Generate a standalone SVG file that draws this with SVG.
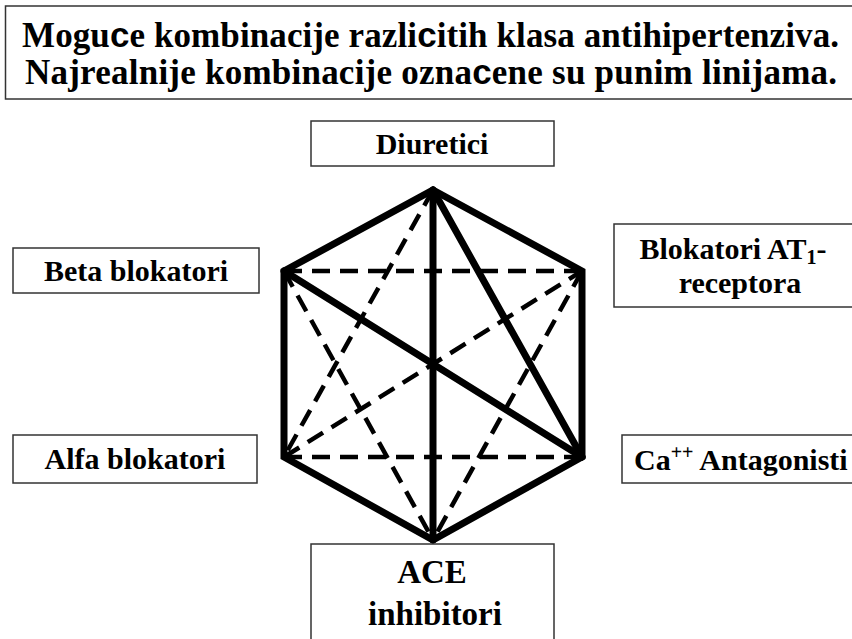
<svg xmlns="http://www.w3.org/2000/svg" width="852" height="639" viewBox="0 0 852 639">
<style>
.box{fill:#fff;stroke:#333;stroke-width:1.5}
.t{font-family:"Liberation Serif","Times New Roman",serif;font-weight:bold;fill:#000}
.c{font-family:"Liberation Sans",Arial,sans-serif;font-weight:bold}
.solid{stroke:#000;stroke-width:7;fill:none;stroke-linecap:round;stroke-linejoin:miter}
.dash{stroke:#000;stroke-width:4.5;fill:none;stroke-dasharray:18 10}
</style>
<rect width="852" height="639" fill="#fff"/>
<g id="title">
<rect class="box" x="5.5" y="6" width="860" height="93"/>
<text class="t" x="430.5" y="47" font-size="35" text-anchor="middle" textLength="817" lengthAdjust="spacing">Mogu<tspan class="c">c</tspan>e kombinacije razli<tspan class="c">c</tspan>itih klasa antihipertenziva.</text>
<text class="t" x="431" y="84" font-size="35" text-anchor="middle" textLength="812" lengthAdjust="spacing">Najrealnije kombinacije ozna<tspan class="c">c</tspan>ene su punim linijama.</text>
</g>
<g id="connectors">
<line class="dash" x1="284" y1="271" x2="582" y2="271"/>
<line class="dash" x1="284" y1="457" x2="582" y2="457"/>
<line class="dash" x1="433" y1="190" x2="284" y2="457"/>
<line class="dash" x1="284" y1="271" x2="433" y2="540"/>
<line class="dash" x1="284" y1="457" x2="582" y2="271"/>
<line class="dash" x1="582" y1="271" x2="433" y2="540"/>
<polygon class="solid" points="433,190 582,271 582,457 433,540 284,457 284,271"/>
<line class="solid" x1="433" y1="190" x2="433" y2="540"/>
<line class="solid" x1="284" y1="271" x2="582" y2="457"/>
<line class="solid" x1="433" y1="190" x2="582" y2="457"/>
</g>
<g id="diuretici">
<rect class="box" x="311" y="121" width="243" height="45"/>
<text class="t" x="432" y="154" font-size="30" text-anchor="middle">Diuretici</text>
</g>
<g id="beta">
<rect class="box" x="13" y="248" width="246" height="45"/>
<text class="t" x="136" y="281" font-size="30" text-anchor="middle">Beta blokatori</text>
</g>
<g id="at1">
<rect class="box" x="614" y="224" width="250" height="83"/>
<text class="t" x="733" y="259" font-size="30" text-anchor="middle">Blokatori AT<tspan font-size="20" dy="5">1</tspan><tspan dy="-5">-</tspan></text>
<text class="t" x="740" y="293" font-size="30" text-anchor="middle">receptora</text>
</g>
<g id="alfa">
<rect class="box" x="13" y="435" width="244" height="48"/>
<text class="t" x="135" y="469" font-size="30" text-anchor="middle">Alfa blokatori</text>
</g>
<g id="ca">
<rect class="box" x="622" y="435" width="250" height="48"/>
<text class="t" x="634" y="470" font-size="30">Ca<tspan font-size="20" dy="-11">++</tspan><tspan dy="11"> Antagonisti</tspan></text>
</g>
<g id="ace">
<rect class="box" x="311" y="544" width="243" height="110"/>
<text class="t" x="432" y="583" font-size="33" text-anchor="middle">ACE</text>
<text class="t" x="435" y="625" font-size="33" text-anchor="middle">inhibitori</text>
</g>
</svg>
